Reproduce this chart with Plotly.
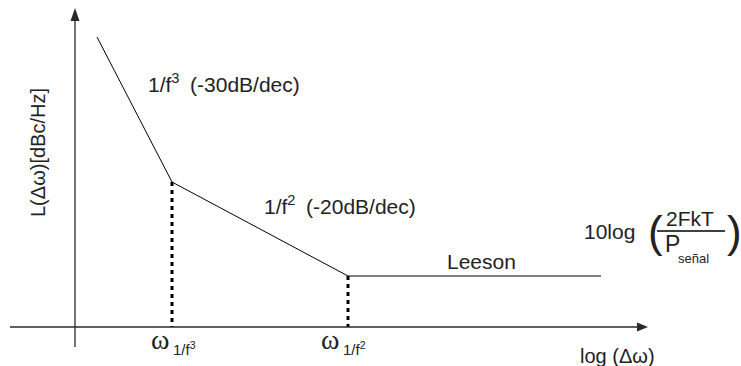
import plotly.graph_objects as go

# Asymptotic phase-noise profile (schematic units: log offset vs. L in dB)
log_dw = [22, 97, 273, 526]          # start, 1/f^3 corner, 1/f^2 corner, end of floor
L_dbc = [290, 145, 51, 51]
corner_x = [97, 273]                  # corner frequencies
corner_L = [145, 51]

X_MIN, X_MAX = -75, 666
Y_MIN, Y_MAX = -39, 327
AXIS_COLOR = "#2a2a2a"
FONT = "Liberation Sans, Arial, sans-serif"
SERIF = "Liberation Serif, DejaVu Serif, serif"

fig = go.Figure()

# main piecewise curve
fig.add_trace(go.Scatter(x=log_dw, y=L_dbc, mode="lines",
                         line=dict(color="black", width=1),
                         hoverinfo="skip", showlegend=False))

# dotted drop lines at each corner
for cx, cl in zip(corner_x, corner_L):
    fig.add_trace(go.Scatter(x=[cx, cx], y=[cl, 0], mode="lines",
                             line=dict(color="black", width=3, dash="4px,4px"),
                             hoverinfo="skip", showlegend=False))

shapes = [
    # horizontal axis with arrow
    dict(type="line", x0=-65, y0=0, x1=566, y1=0,
         line=dict(color=AXIS_COLOR, width=1.3)),
    dict(type="path", path="M 573 0 L 562 4.5 L 562 -4.5 Z",
         fillcolor=AXIS_COLOR, line=dict(width=0)),
    # vertical axis with arrow
    dict(type="line", x0=0, y0=-20, x1=0, y1=310,
         line=dict(color=AXIS_COLOR, width=1.3)),
    dict(type="path", path="M 0 319 L -4.5 306 L 4.5 306 Z",
         fillcolor=AXIS_COLOR, line=dict(width=0)),
    # fraction bar of the Leeson floor expression
    dict(type="line", x0=582, y0=96, x1=650, y1=96,
         line=dict(color="black", width=1.5)),
]

def txt(x, y, s, size=21, font=FONT, xanchor="left", **kw):
    return dict(x=x, y=y, text=s, showarrow=False, xanchor=xanchor,
                yanchor="middle", font=dict(family=font, size=size, color="#222"),
                **kw)

annotations = [
    txt(71, 244, "1/f<sup>3</sup>\u2002(-30dB/dec)"),
    txt(187, 122, "1/f<sup>2</sup>\u2002(-20dB/dec)"),
    txt(406, 66, "Leeson", xanchor="center"),
    txt(507, 96, "10log"),
    txt(571, 96, "(", size=44),
    txt(659, 96, ")", size=44, xanchor="center"),
    txt(615, 109, "2FkT", xanchor="center"),
    txt(588, 83, "P", size=23),
    txt(601, 69, "señal", size=13),
    txt(-37, 174, "L(Δω)[dBc/Hz]", size=20, xanchor="center", textangle=-90),
    txt(85, -12, "ω", size=28, font=SERIF, xanchor="center"),
    txt(96, -21, "1/f<sup>3</sup>", size=15),
    txt(255, -12, "ω", size=28, font=SERIF, xanchor="center"),
    txt(266, -21, "1/f<sup>2</sup>", size=15),
    txt(542, -29, "log (Δω)", size=20, xanchor="center"),
]

fig.update_layout(
    width=741, height=366,
    margin=dict(l=0, r=0, t=0, b=0, pad=0),
    paper_bgcolor="white", plot_bgcolor="white",
    xaxis=dict(range=[X_MIN, X_MAX], visible=False, fixedrange=True),
    yaxis=dict(range=[Y_MIN, Y_MAX], visible=False, fixedrange=True),
    shapes=shapes, annotations=annotations, showlegend=False,
)

fig.write_html("out.html")
